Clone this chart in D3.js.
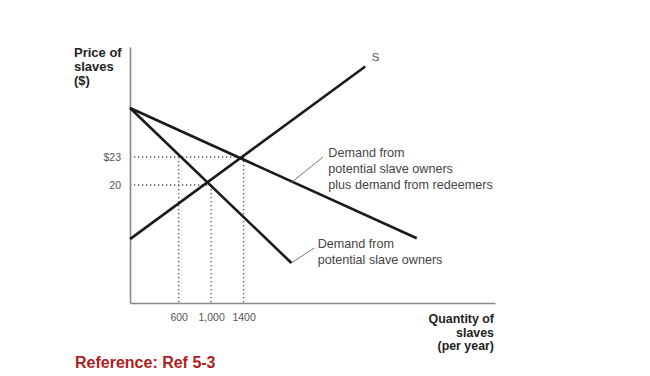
<!DOCTYPE html>
<html>
<head>
<meta charset="utf-8">
<script src="https://cdn.jsdelivr.net/npm/d3@7"></script>
<style>
  html, body { margin: 0; padding: 0; background: #fff; }
  svg { display: block; }
</style>
</head>
<body>
<svg id="chart"></svg>
<script>
// Price ticks and quantity ticks (values + labels)
const priceTicks = [20, 23];
const priceTickLabels = ["20", "$23"];
const qtyTicks = [600, 1000, 1400];
const qtyTickLabels = ["600", "1,000", "1400"];

// Curves as [quantity, price]
const supply = [[0, 14.2], [2900, 32.7]];
const demandOwners = [[0, 28.25], [1990, 11.65]];
const demandTotal = [[0, 28.25], [3535, 14.3]];

// Dotted guides: [quantity, price] of each equilibrium
const equilibria = [[1000, 20], [1400, 23]];
const ownersAt23 = 600;

const W = 650, H = 376;
const font = "'Liberation Sans', Arial, Helvetica, sans-serif";

const x = d3.scaleLinear().domain([0, 4500]).range([130, 495]);
const y = d3.scaleLinear().domain([7.36, 34.79]).range([303, 47]);

const svg = d3.select("#chart").attr("width", W).attr("height", H);

// Dotted guide lines
const guides = svg.append("g")
  .attr("stroke", "#555").attr("stroke-width", 1.4)
  .attr("stroke-dasharray", "1.3,2.7").attr("fill", "none");

equilibria.forEach(([q, p]) => {
  guides.append("line")
    .attr("x1", x(0)).attr("x2", x(q))
    .attr("y1", y(p)).attr("y2", y(p));
  guides.append("line")
    .attr("x1", x(q)).attr("x2", x(q))
    .attr("y1", y(p)).attr("y2", y(y.domain()[0]));
});
guides.append("line")
  .attr("x1", x(ownersAt23)).attr("x2", x(ownersAt23))
  .attr("y1", y(23)).attr("y2", y(y.domain()[0]));

// Axes
svg.append("g")
  .attr("transform", `translate(${x(0)},0)`)
  .call(d3.axisLeft(y).tickValues(priceTicks)
    .tickFormat((d, i) => priceTickLabels[i]).tickSize(0).tickPadding(9))
  .call(ax => {
    ax.select(".domain").attr("stroke", "#888").attr("stroke-width", 1.6);
    ax.selectAll(".tick text").style("fill", "#555")
      .style("font-size", "10.5px").style("font-family", font);
  });

svg.append("g")
  .attr("transform", `translate(0,${y(y.domain()[0])})`)
  .call(d3.axisBottom(x).tickValues(qtyTicks)
    .tickFormat((d, i) => qtyTickLabels[i]).tickSize(0).tickPadding(11))
  .call(ax => {
    ax.select(".domain").attr("stroke", "#888").attr("stroke-width", 1.6);
    ax.selectAll(".tick text").style("fill", "#555")
      .style("font-size", "10.5px").style("font-family", font);
  });

// Curves
const line = d3.line().x(d => x(d[0])).y(d => y(d[1]));
svg.selectAll(".curve")
  .data([supply, demandOwners, demandTotal]).join("path")
  .attr("class", "curve")
  .attr("d", line)
  .attr("fill", "none")
  .attr("stroke", "#1a1a1a")
  .attr("stroke-width", 2.6);

// Leader lines
const leaders = [
  [[2000, 20.35], [2380, 23.0]],
  [[1990, 11.65], [2270, 13.25]]
];
svg.selectAll(".leader")
  .data(leaders).join("path")
  .attr("class", "leader")
  .attr("d", line)
  .attr("fill", "none")
  .attr("stroke", "#777")
  .attr("stroke-width", 1);

// Curve labels
function multiline(xPos, yPos, lines, opts) {
  const t = svg.append("text")
    .attr("x", xPos).attr("y", yPos)
    .attr("text-anchor", opts.anchor || "start")
    .style("fill", opts.fill || "#444")
    .style("font-size", opts.size || "11px")
    .style("font-weight", opts.weight || "normal")
    .style("font-family", font);
  lines.forEach((s, i) => {
    t.append("tspan").attr("x", xPos).attr("dy", i === 0 ? 0 : opts.lh).text(s);
  });
  return t;
}

multiline(x(2445), y(23) - 0.5,
  ["Demand from", "potential slave owners", "plus demand from redeemers"],
  { lh: 16, size: "12.6px" });

multiline(x(2315), y(13.25) - 0.5,
  ["Demand from", "potential slave owners"],
  { lh: 16.5, size: "12.6px" });

svg.append("text")
  .attr("x", x(2980)).attr("y", y(33.3))
  .style("fill", "#555").style("font-size", "11.5px")
  .style("font-family", font)
  .text("S");

// Axis titles
multiline(74, 57, ["Price of", "slaves", "($)"],
  { lh: 14, size: "13px", weight: "bold", fill: "#222" });

multiline(494, 323, ["Quantity of", "slaves", "(per year)"],
  { lh: 13.5, size: "12.4px", weight: "bold", fill: "#222", anchor: "end" });

// Footer reference
svg.append("text")
  .attr("x", 75).attr("y", 368)
  .style("fill", "#b01c1c").style("font-size", "16px")
  .style("font-weight", "bold").style("font-family", font)
  .text("Reference: Ref 5-3");
</script>
</body>
</html>
